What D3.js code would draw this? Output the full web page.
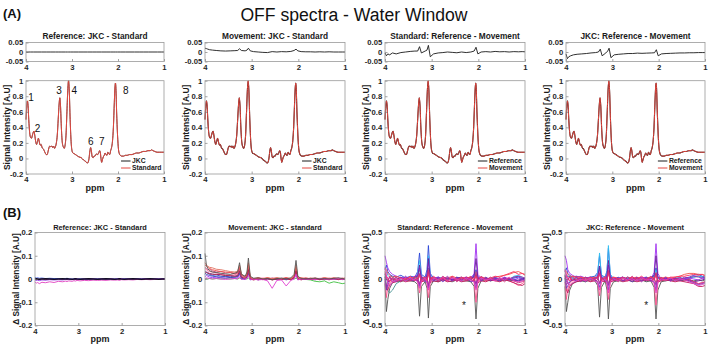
<!DOCTYPE html>
<html><head><meta charset="utf-8">
<script src="https://cdn.jsdelivr.net/npm/d3@7"></script>
<style>body{margin:0;background:#fff}</style>
</head><body>
<script>
// ---------------- DATA ----------------
const ppmTicks = [4, 3, 2, 1];
const mainYTicks = [-0.2, 0, 0.2, 0.4, 0.6, 0.8, 1];
const diffYTicks = [-0.05, 0, 0.05];
const smallDeltaTicks = [-0.2, -0.1, 0, 0.1, 0.2];
const largeDeltaTicks = [-0.5, 0, 0.5];

const topTitles = ["Reference: JKC - Standard", "Movement: JKC - Standard", "Standard: Reference - Movement", "JKC: Reference - Movement"];
const bottomTitles = ["Reference: JKC - Standard", "Movement: JKC - standard", "Standard: Reference - Movement", "JKC: Reference - Movement"];
const legendLabels = [["JKC", "Standard"], ["JKC", "Standard"], ["Reference", "Movement"], ["Reference", "Movement"]];
const peakLabels = ["1", "2", "3", "4", "6", "7", "8"];
const peakPpm = [3.89, 3.75, 3.28, 2.95, 2.59, 2.35, 1.83];
const peakVal = [0.74, 0.34, 0.83, 0.83, 0.17, 0.17, 0.83];

// averaged OFF spectrum (ppm, normalised intensity)
const specPpm = [4.00,3.985,3.97,3.955,3.94,3.92,3.90,3.88,3.86,3.84,3.825,3.81,3.79,3.77,3.75,3.73,3.71,3.69,3.67,3.65,3.62,3.59,3.56,3.54,3.52,3.50,3.48,3.46,3.44,3.42,3.40,3.38,3.36,3.34,3.32,3.30,3.28,3.265,3.25,3.23,3.21,3.19,3.17,3.15,3.13,3.11,3.09,3.075,3.06,3.04,3.02,3.00,2.98,2.95,2.90,2.85,2.80,2.75,2.70,2.67,2.65,2.63,2.61,2.595,2.58,2.56,2.54,2.52,2.50,2.48,2.46,2.44,2.42,2.40,2.385,2.37,2.355,2.34,2.32,2.30,2.28,2.26,2.24,2.22,2.20,2.18,2.16,2.14,2.12,2.10,2.08,2.065,2.055,2.045,2.03,2.01,1.99,1.97,1.95,1.92,1.88,1.84,1.80,1.75,1.70,1.65,1.60,1.55,1.50,1.45,1.40,1.35,1.30,1.27,1.24,1.20,1.15,1.10,1.05,1.00];
const specVal = [0.50,0.66,0.74,0.68,0.50,0.33,0.27,0.26,0.30,0.34,0.35,0.30,0.22,0.18,0.22,0.26,0.21,0.17,0.18,0.14,0.12,0.08,0.05,0.05,0.09,0.14,0.16,0.15,0.16,0.14,0.16,0.13,0.15,0.20,0.30,0.50,0.70,0.78,0.68,0.38,0.20,0.15,0.13,0.17,0.30,0.60,0.90,1.00,0.88,0.50,0.22,0.10,0.07,0.06,0.04,0.02,0.01,-0.02,-0.04,-0.06,-0.05,0.00,0.10,0.14,0.10,0.02,0.01,0.03,0.03,0.05,0.06,0.05,0.07,0.10,0.08,0.00,-0.05,-0.02,0.02,0.04,0.07,0.05,0.04,0.08,0.06,0.05,0.10,0.14,0.22,0.40,0.72,0.92,0.97,0.90,0.60,0.30,0.12,0.06,0.04,0.03,0.03,0.04,0.04,0.05,0.05,0.06,0.07,0.07,0.08,0.09,0.09,0.10,0.10,0.11,0.10,0.09,0.08,0.08,0.08,0.08];

// ppm sampling grid for the difference spectra
const gridPpm = [4.00,3.97,3.94,3.90,3.84,3.76,3.66,3.56,3.46,3.36,3.30,3.26,3.22,3.14,3.10,3.07,3.03,2.96,2.86,2.76,2.66,2.56,2.46,2.36,2.26,2.16,2.09,2.05,2.01,1.94,1.84,1.74,1.64,1.54,1.44,1.34,1.24,1.14,1.06,1.00];

// top-row difference spectra
const diffRefJkcStd = [0,0,0,0,0,0,0,0,0,0,0,0,0,0,0,0,0,0,0,0,0,0,0,0,0,0,0,0,0,0,0,0,0,0,0,0,0,0,0,0];
const diffMovJkcStd = [0.020,0.018,0.015,0.012,0.010,0.008,0.006,0.005,0.006,0.007,0.008,0.017,0.008,0.006,0.010,0.020,0.006,0.002,0.000,-0.002,-0.003,0.002,0.000,0.002,0.001,0.003,0.008,0.015,0.006,0.002,0.001,0.001,0.000,0.001,0.000,0.001,0.000,0.000,0.000,0.000];
const diffStdRefMov = [-0.005,-0.020,-0.010,-0.015,-0.005,-0.010,-0.003,0.000,0.003,0.005,0.005,0.028,-0.005,0.005,0.010,0.035,-0.025,-0.010,-0.005,-0.003,0.000,-0.002,-0.004,0.000,-0.003,0.000,0.005,0.025,-0.010,0.000,0.002,0.000,0.003,0.001,0.002,0.000,0.002,0.001,0.002,0.001];
const diffJkcRefMov = [-0.010,-0.035,-0.025,-0.020,-0.015,-0.012,-0.010,-0.008,-0.005,-0.003,0.000,0.015,-0.020,-0.005,0.005,0.020,-0.030,-0.015,-0.012,-0.010,-0.008,-0.008,-0.006,-0.007,-0.006,-0.005,-0.004,0.012,-0.020,-0.010,-0.008,-0.007,-0.006,-0.005,-0.005,-0.004,-0.004,-0.003,-0.003,-0.003];

// bottom-row individual-subject difference spectra
const deltaRefJkcStd = [
 [0.002,-0.003,0.001,-0.002,0.002,-0.003,0.001,-0.002,0.002,-0.002,0.001,-0.002,0.001,-0.002,0.001,-0.001,0.001,-0.002,0.001,-0.001,0.001,-0.002,0.001,-0.001,0.001,-0.002,0.001,-0.001,0.002,-0.001,0.001,-0.002,0.001,-0.001,0.002,-0.001,0.001,-0.001,0.001,0.000],
 [0.006,0.004,0.005,0.003,0.004,0.002,0.003,0.002,0.002,0.001,0.002,0.003,0.001,0.000,0.001,0.002,0.000,0.001,0.000,0.001,0.000,0.001,0.000,0.001,0.000,0.000,0.001,0.002,0.000,0.001,0.000,0.000,0.001,0.000,0.000,0.001,0.000,0.000,0.001,0.000],
 [-0.004,-0.006,-0.005,-0.007,-0.004,-0.005,-0.003,-0.004,-0.003,-0.004,-0.002,-0.003,-0.002,-0.003,-0.001,-0.002,-0.001,-0.002,-0.001,-0.001,0.000,-0.001,0.000,-0.001,0.000,-0.001,0.000,0.001,0.000,-0.001,0.000,0.000,-0.001,0.000,0.000,-0.001,0.000,0.000,0.000,0.000],
 [-0.012,-0.018,-0.015,-0.020,-0.014,-0.016,-0.012,-0.015,-0.010,-0.012,-0.009,-0.011,-0.008,-0.010,-0.007,-0.009,-0.006,-0.008,-0.006,-0.007,-0.005,-0.006,-0.005,-0.006,-0.004,-0.005,-0.004,-0.006,-0.003,-0.004,-0.003,-0.004,-0.002,-0.003,-0.002,-0.003,-0.002,-0.002,-0.001,-0.002],
 [0.000,0.001,0.000,-0.001,0.000,0.001,0.000,-0.001,0.000,0.001,0.000,0.001,0.000,-0.001,0.000,0.001,0.000,-0.001,0.000,0.001,0.000,-0.001,0.000,0.001,0.000,-0.001,0.000,0.001,0.000,-0.001,0.000,0.001,0.000,-0.001,0.000,0.001,0.000,-0.001,0.000,0.000]
];
const deltaMovJkcStd = [
 [0.000,0.002,0.000,0.002,0.000,0.002,0.000,0.002,0.000,0.002,0.000,0.004,0.000,0.002,0.000,0.004,0.000,0.002,0.000,0.002,0.000,0.002,0.000,0.002,0.000,0.002,0.000,0.004,0.000,0.000,-0.002,-0.004,-0.010,-0.012,-0.008,-0.018,-0.012,-0.016,-0.020,-0.018],
 [0.010,0.015,0.012,0.008,0.006,0.008,0.005,0.004,0.006,0.003,0.005,0.020,0.002,-0.002,0.006,0.025,-0.004,0.000,-0.003,0.002,-0.002,0.000,-0.003,0.002,0.000,-0.002,0.004,0.020,-0.002,0.000,-0.002,0.002,0.000,-0.002,0.000,0.002,-0.002,0.000,0.000,-0.002],
 [0.020,0.030,0.025,0.020,0.015,0.018,0.012,0.010,0.012,0.008,0.012,0.030,0.004,0.000,0.010,0.035,-0.002,0.002,-0.002,0.000,0.002,-0.002,0.000,0.002,-0.002,0.000,0.006,0.030,0.000,-0.002,0.002,0.000,-0.002,0.000,0.002,-0.002,0.000,0.002,0.000,-0.002],
 [0.025,0.020,0.018,0.015,0.012,0.010,0.008,0.010,0.006,0.008,0.010,0.025,0.004,0.000,0.008,0.030,0.000,0.002,-0.002,0.000,0.002,0.000,-0.002,0.000,0.002,0.000,0.006,0.025,0.000,0.002,0.000,-0.002,0.000,0.002,-0.002,0.000,0.002,0.000,-0.002,0.000],
 [0.035,0.030,0.028,0.024,0.022,0.018,0.020,0.014,0.016,0.012,0.016,0.032,0.008,0.000,0.012,0.035,-0.003,0.003,-0.004,0.002,-0.003,0.004,-0.002,0.003,-0.004,0.002,0.006,0.030,-0.003,0.003,-0.002,0.003,-0.004,0.002,-0.003,0.003,-0.002,0.004,-0.003,0.002],
 [0.045,0.040,0.035,0.032,0.030,0.026,0.022,0.018,0.016,0.018,0.022,0.040,0.012,0.004,0.015,0.045,0.002,-0.002,0.002,0.004,0.000,0.004,0.002,0.000,0.004,0.002,0.008,0.040,0.002,0.000,0.004,0.002,0.000,0.003,0.001,0.004,0.000,0.003,0.002,0.000],
 [0.050,0.045,0.040,0.042,0.035,0.030,0.033,0.026,0.028,0.022,0.025,0.045,0.015,0.006,0.018,0.050,0.004,-0.003,0.005,-0.002,0.004,-0.004,0.003,-0.002,0.004,-0.003,0.010,0.045,0.002,-0.004,0.003,-0.002,0.004,-0.003,0.002,-0.004,0.003,-0.002,0.004,-0.002],
 [0.060,0.055,0.050,0.045,0.040,0.036,0.032,0.030,0.028,0.025,0.028,0.050,0.020,0.008,0.020,0.060,0.006,0.000,0.004,0.002,0.006,0.000,0.004,0.002,0.006,0.000,0.012,0.050,0.004,0.006,0.000,0.004,0.002,0.000,0.006,0.002,0.005,0.002,0.000,0.004],
 [0.070,0.060,0.055,0.050,0.048,0.042,0.040,0.036,0.032,0.030,0.034,0.060,0.022,0.010,0.025,0.070,0.008,0.002,0.006,0.000,0.005,0.002,0.006,0.000,0.004,0.002,0.015,0.060,0.005,0.002,0.005,0.000,0.004,0.002,0.005,0.000,0.004,0.002,0.003,0.004],
 [0.030,0.028,0.025,0.022,0.020,0.020,0.018,0.015,0.014,0.012,0.014,0.035,0.008,0.002,0.012,0.040,0.000,-0.004,0.000,-0.003,0.002,-0.004,0.000,-0.002,0.002,-0.004,0.006,0.035,0.000,-0.003,0.002,-0.002,0.000,-0.003,0.000,-0.002,0.002,-0.003,0.000,-0.002],
 [0.000,0.005,0.004,0.002,0.000,0.002,0.000,-0.002,0.000,0.002,0.000,0.010,-0.002,0.000,0.002,0.015,-0.002,0.000,-0.004,-0.002,-0.008,-0.040,-0.006,-0.004,-0.030,-0.006,0.000,0.020,-0.004,0.000,-0.002,0.000,-0.002,0.002,0.000,-0.002,0.000,0.002,-0.002,0.000],
 [0.110,0.060,0.045,0.035,0.030,0.028,0.025,0.022,0.020,0.025,0.030,0.070,0.020,0.012,0.030,0.090,0.012,0.003,0.005,0.000,0.002,-0.003,0.002,0.004,0.000,0.005,0.020,0.080,0.012,0.002,0.000,0.002,0.004,0.000,0.002,0.000,0.003,0.005,0.002,0.000]
];
const deltaStdRefMov = [
 [-0.05,-0.35,-0.22,-0.10,-0.04,-0.02,-0.03,-0.01,-0.02,-0.03,-0.06,-0.40,-0.08,-0.03,-0.10,-0.42,-0.08,-0.02,-0.03,-0.01,-0.02,-0.03,-0.01,-0.02,-0.02,-0.03,-0.08,-0.43,-0.10,-0.02,-0.01,-0.02,-0.01,-0.02,-0.01,-0.02,-0.01,-0.02,-0.01,-0.02],
 [0.03,-0.06,-0.12,-0.15,-0.12,-0.05,-0.02,0.00,-0.01,0.01,0.02,0.10,0.01,0.00,0.03,0.12,0.00,-0.01,0.00,0.01,-0.01,0.00,0.01,-0.01,0.00,0.01,0.02,0.05,0.00,0.01,-0.01,0.00,0.01,0.00,-0.01,0.00,0.02,0.03,0.01,0.00],
 [0.10,0.15,0.08,0.05,0.03,0.02,0.04,0.01,0.03,0.02,0.08,0.28,0.05,0.02,0.10,0.36,0.06,0.01,0.02,0.00,0.01,-0.01,0.02,0.00,0.01,0.02,0.04,0.10,0.02,0.00,0.01,-0.01,0.00,0.01,-0.01,0.00,0.01,0.02,0.00,0.01],
 [0.05,0.08,0.04,0.02,0.03,-0.02,0.00,0.02,-0.01,0.01,0.05,0.20,0.03,0.00,0.06,0.25,0.04,-0.01,0.01,0.02,0.00,0.01,-0.02,0.01,0.00,0.01,0.03,0.08,0.02,-0.01,0.00,0.01,0.02,0.00,0.01,-0.01,0.03,0.04,0.02,0.00],
 [0.25,0.18,0.12,0.08,0.05,0.03,0.01,0.02,0.00,0.03,0.04,0.12,0.02,0.01,0.05,0.18,0.03,0.00,0.02,-0.01,0.01,0.00,-0.02,0.01,0.02,0.00,0.06,0.38,0.05,0.01,0.00,-0.01,0.01,0.00,0.02,0.00,-0.01,0.01,0.00,-0.01],
 [0.05,0.00,-0.03,-0.02,0.00,-0.01,0.02,-0.01,0.00,0.02,0.03,0.15,0.00,-0.01,0.04,0.22,0.01,0.00,-0.02,0.01,0.00,-0.01,0.01,0.02,-0.01,0.00,0.03,0.22,0.01,-0.01,0.01,-0.02,0.00,-0.01,0.01,0.00,-0.02,-0.01,0.00,0.01],
 [0.12,0.10,0.06,0.04,0.02,0.03,0.01,0.00,0.02,0.01,0.00,-0.05,0.01,0.02,0.00,-0.06,0.02,0.01,0.00,0.02,0.01,0.03,0.01,0.00,0.02,0.01,0.00,-0.05,0.01,0.02,0.01,0.00,0.02,0.03,0.04,0.05,0.07,0.08,0.06,0.05],
 [-0.02,-0.20,-0.08,-0.04,-0.02,0.00,-0.02,0.01,-0.01,0.00,-0.02,-0.15,-0.03,0.00,-0.05,-0.20,-0.03,0.00,-0.01,0.00,-0.02,0.01,-0.01,0.00,-0.01,0.00,-0.04,-0.25,-0.03,0.00,-0.01,0.01,-0.01,0.00,0.01,-0.02,-0.04,-0.07,-0.05,-0.03],
 [0.02,-0.10,-0.12,-0.06,-0.04,-0.03,-0.01,-0.03,-0.02,-0.01,-0.02,0.05,-0.03,-0.02,-0.01,0.08,-0.04,-0.02,-0.03,-0.01,-0.03,-0.02,-0.01,-0.03,-0.02,-0.01,-0.02,0.05,-0.04,-0.02,-0.03,-0.01,-0.02,-0.03,-0.01,-0.02,-0.04,-0.06,-0.07,-0.05],
 [0.00,-0.12,-0.06,-0.02,0.01,-0.03,0.02,-0.02,0.01,0.00,-0.02,-0.08,0.01,-0.03,-0.02,-0.10,0.01,-0.02,0.01,-0.03,0.01,-0.02,0.02,-0.01,0.01,-0.03,-0.02,-0.10,0.01,-0.02,0.02,-0.01,0.00,-0.02,0.01,-0.01,0.00,-0.02,-0.01,0.00],
 [-0.04,-0.08,-0.03,0.02,-0.03,0.01,-0.02,0.03,-0.01,-0.02,0.01,-0.06,0.03,-0.02,0.02,-0.08,0.02,-0.02,0.02,-0.01,0.03,-0.02,0.01,-0.02,0.02,-0.01,0.02,-0.06,0.03,-0.02,0.01,-0.01,0.02,-0.02,0.01,0.00,0.02,0.03,0.02,0.01],
 [0.08,0.03,0.01,-0.03,0.02,-0.02,0.01,-0.01,0.03,-0.02,0.02,0.04,-0.03,0.01,-0.02,0.05,-0.01,0.03,-0.01,0.01,-0.02,0.03,-0.01,0.02,0.00,0.03,-0.02,0.03,-0.01,0.02,-0.02,0.01,0.03,0.02,0.04,0.06,0.08,0.05,0.06,0.04],
 [0.06,0.02,-0.02,0.03,-0.01,0.02,-0.03,0.01,-0.02,0.03,0.00,0.06,-0.02,0.02,0.01,0.10,-0.03,0.02,-0.02,0.03,-0.01,0.02,-0.03,0.01,-0.02,0.02,-0.01,0.08,-0.02,0.03,-0.01,0.02,-0.02,0.01,-0.03,0.01,-0.02,-0.04,-0.03,-0.02],
 [0.12,0.05,-0.05,-0.08,-0.03,-0.02,0.01,-0.02,0.01,-0.01,-0.03,-0.10,-0.02,0.01,-0.04,-0.12,-0.02,0.01,-0.01,0.02,-0.02,0.01,0.00,-0.02,0.01,-0.01,-0.03,-0.12,-0.02,0.01,-0.01,0.00,-0.02,0.01,-0.01,0.02,-0.02,-0.03,-0.02,-0.01]
];
const deltaJkcRefMov = [
 [-0.08,-0.35,-0.25,-0.12,-0.05,-0.03,-0.02,-0.03,-0.01,-0.02,-0.07,-0.41,-0.09,-0.02,-0.12,-0.43,-0.10,-0.03,-0.02,-0.02,-0.01,-0.03,-0.02,-0.01,-0.03,-0.02,-0.09,-0.43,-0.12,-0.03,-0.02,-0.01,-0.02,-0.01,-0.02,-0.01,-0.02,-0.01,-0.02,-0.01],
 [0.04,0.02,0.03,0.02,0.01,-0.01,0.00,0.01,-0.01,0.00,0.02,0.12,0.01,0.00,0.03,0.15,0.01,-0.01,0.00,0.01,0.00,-0.01,0.01,0.00,0.00,0.01,0.02,0.06,0.00,0.01,0.00,-0.01,0.00,0.01,0.00,0.01,0.02,0.03,0.02,0.01],
 [0.08,0.12,0.06,0.04,0.02,0.03,0.02,0.01,0.02,0.03,0.07,0.25,0.04,0.02,0.09,0.33,0.05,0.00,0.01,0.02,0.00,0.01,-0.01,0.01,0.02,0.00,0.03,0.12,0.02,0.01,0.00,0.01,-0.01,0.00,0.01,0.02,0.04,0.05,0.03,0.02],
 [0.06,0.05,0.03,0.02,0.02,0.00,0.01,-0.01,0.02,0.01,0.06,0.28,0.04,0.01,0.08,0.36,0.05,0.00,0.01,0.00,0.02,0.00,0.01,-0.01,0.00,0.02,0.04,0.10,0.01,0.00,0.01,0.00,0.01,0.02,0.00,0.01,0.02,0.03,0.02,0.01],
 [0.25,0.20,0.10,0.06,0.04,0.02,0.03,0.01,0.02,0.00,0.04,0.10,0.02,0.00,0.05,0.15,0.02,0.01,0.00,0.02,-0.01,0.01,0.00,0.02,0.01,0.00,0.07,0.38,0.06,0.00,0.01,0.00,-0.01,0.01,0.00,0.01,0.00,-0.01,0.01,0.00],
 [0.04,-0.02,-0.05,-0.03,-0.01,0.00,0.01,-0.02,0.01,0.01,0.02,0.14,0.01,-0.02,0.03,0.20,0.00,-0.01,-0.01,0.02,-0.01,0.00,0.01,0.01,-0.02,0.01,0.04,0.25,0.02,0.00,0.00,-0.01,0.01,-0.02,0.00,-0.01,-0.03,-0.02,-0.01,0.00],
 [0.10,0.08,0.05,0.03,0.03,0.02,0.02,0.01,0.01,0.02,0.01,-0.04,0.00,0.01,0.00,-0.05,0.01,0.02,0.01,0.00,0.02,0.01,0.02,0.00,0.01,0.02,0.01,-0.04,0.02,0.01,0.02,0.01,0.02,0.03,0.05,0.06,0.06,0.05,0.05,0.04],
 [-0.03,-0.22,-0.10,-0.05,-0.02,-0.01,-0.02,0.00,-0.01,-0.01,-0.03,-0.18,-0.03,-0.01,-0.06,-0.22,-0.04,-0.01,0.00,-0.01,-0.02,0.00,-0.01,-0.01,0.00,-0.01,-0.05,-0.28,-0.04,-0.01,0.00,0.01,0.00,-0.01,0.00,-0.02,-0.03,-0.05,-0.04,-0.03],
 [0.03,-0.12,-0.15,-0.08,-0.05,-0.03,-0.02,-0.01,-0.03,-0.02,-0.01,0.06,-0.02,-0.03,-0.01,0.09,-0.03,-0.02,-0.01,-0.03,-0.02,-0.01,-0.03,-0.02,-0.01,-0.02,-0.01,0.06,-0.03,-0.02,-0.01,-0.02,-0.03,-0.02,-0.03,-0.04,-0.05,-0.08,-0.08,-0.07],
 [0.01,-0.10,-0.07,-0.03,0.00,-0.02,0.01,-0.03,0.02,-0.01,-0.03,-0.09,0.02,-0.02,-0.03,-0.12,0.02,-0.01,0.02,-0.02,0.00,-0.03,0.01,-0.02,0.02,-0.02,-0.03,-0.12,0.02,-0.01,0.01,-0.02,0.01,-0.01,0.00,-0.02,-0.04,-0.06,-0.05,-0.04],
 [-0.03,-0.06,-0.02,0.03,-0.02,0.02,-0.03,0.02,0.00,-0.01,0.02,-0.05,0.02,-0.01,0.03,-0.07,0.03,-0.01,0.01,-0.02,0.02,-0.01,0.02,-0.03,0.01,-0.02,0.01,-0.07,0.02,-0.01,0.02,-0.02,0.01,-0.01,0.02,0.01,0.03,0.02,0.01,0.02],
 [0.09,0.04,0.02,-0.02,0.03,-0.01,0.02,-0.02,0.02,-0.01,0.03,0.05,-0.02,0.02,-0.01,0.06,-0.02,0.02,0.00,0.02,-0.01,0.02,0.00,0.03,-0.01,0.02,-0.01,0.04,-0.02,0.01,-0.01,0.02,0.02,0.03,0.03,0.04,0.05,0.04,0.05,0.03],
 [0.05,0.03,-0.01,0.02,-0.02,0.03,-0.01,0.02,-0.03,0.02,0.01,0.07,-0.01,0.03,0.00,0.09,-0.02,0.01,-0.03,0.02,-0.01,0.03,-0.02,0.01,-0.01,0.03,0.00,0.07,-0.03,0.02,-0.02,0.01,-0.01,0.02,-0.02,0.00,-0.03,-0.05,-0.04,-0.03],
 [0.10,0.04,-0.04,-0.07,-0.04,-0.02,0.00,-0.02,0.01,-0.02,-0.04,-0.12,-0.03,0.00,-0.05,-0.15,-0.03,0.00,-0.02,0.01,-0.01,0.00,-0.02,0.01,-0.01,0.00,-0.04,-0.15,-0.03,0.00,-0.01,0.01,-0.02,0.00,-0.01,-0.03,-0.05,-0.07,-0.06,-0.05]
];
const starPpm = [2.31, 2.26];
const starVal = [-0.27, -0.27];

// ---------------- STYLE ----------------
const FONT = "'Liberation Sans', Arial, Helvetica, sans-serif";
const colRefJkc = ["#b01850", "#2a50e0", "#8a2be2", "#e040c0", "#151025"];
const colMov = ["#40c040", "#9b30ff", "#2a50e0", "#3949ab", "#8060a0", "#ff6a9a", "#c05080", "#f0504a", "#e07060", "#b0204a", "#e040d0", "#555555"];
const colBig = ["#555555", "#3f8f8f", "#2a46d8", "#30c0f0", "#a030f0", "#6a1b9a", "#f0504a", "#ff4f8b", "#c2185b", "#7030c0", "#9c27b0", "#ff3060", "#d0307a", "#e040c0"];

const svg = d3.select("body").append("svg").attr("width", 709).attr("height", 346)
  .style("font-family", FONT);

function makeAxes(o) {
  const x = d3.scaleLinear().domain([4, 1]).range([o.left, o.right]);
  const y = d3.scaleLinear().domain(o.yDomain).range([o.bottom, o.top]);
  const g = svg.append("g");
  const plot = g.append("g");
  const fmt = d => (d === 0 ? "0" : String(d));
  const xa = g.append("g").attr("transform", `translate(0,${o.bottom})`)
    .call(d3.axisBottom(x).tickValues(ppmTicks).tickSize(-2.5).tickPadding(2.6).tickFormat(d3.format("d")));
  const ya = g.append("g").attr("transform", `translate(${o.left},0)`)
    .call(d3.axisLeft(y).tickValues(o.yTicks).tickSize(-2.5).tickPadding(2.8).tickFormat(fmt));
  [xa, ya].forEach(a => {
    a.select(".domain").remove();
    a.selectAll("line").attr("stroke", "#666").attr("stroke-width", 0.6);
    a.selectAll("text").attr("font-size", 7.7).attr("font-weight", "bold").attr("fill", "#262626").attr("font-family", FONT);
  });
  g.append("rect").attr("x", o.left).attr("y", o.top).attr("width", o.right - o.left).attr("height", o.bottom - o.top)
    .attr("fill", "none").attr("stroke", "#9a9a9a").attr("stroke-width", 0.8);
  if (o.title) {
    g.append("text").attr("x", (o.left + o.right) / 2).attr("y", o.titleY).attr("text-anchor", "middle")
      .attr("font-size", o.titleSize).attr("font-weight", "bold").attr("fill", "#1a1a1a").text(o.title);
  }
  if (o.ylabel) {
    const cy = (o.top + o.bottom) / 2, cx = o.left - 19.5;
    g.append("text").attr("transform", `translate(${cx},${cy}) rotate(-90)`).attr("text-anchor", "middle")
      .attr("dominant-baseline", "central").attr("font-size", o.ylabelSize).attr("font-weight", "bold").attr("fill", "#1a1a1a").text(o.ylabel);
  }
  if (o.xlabel) {
    g.append("text").attr("x", (o.left + o.right) / 2).attr("y", o.xlabelY).attr("text-anchor", "middle")
      .attr("font-size", 9).attr("font-weight", "bold").attr("fill", "#1a1a1a").text(o.xlabel);
  }
  return { x, y, plot, g };
}

function drawLine(ax, xs, ys, color, width, curve) {
  const pts = xs.map((p, i) => [p, ys[i]]);
  ax.plot.append("path").datum(pts)
    .attr("d", d3.line().x(d => ax.x(d[0])).y(d => ax.y(d[1])).curve(curve || d3.curveLinear))
    .attr("fill", "none").attr("stroke", color).attr("stroke-width", width).attr("stroke-linejoin", "round");
}

// headings
svg.append("text").attr("x", 354).attr("y", 20.5).attr("text-anchor", "middle").attr("font-size", 17.6).attr("fill", "#111").text("OFF spectra - Water Window");
svg.append("text").attr("x", 3).attr("y", 18).attr("font-size", 13).attr("font-weight", "bold").attr("fill", "#111").text("(A)");
svg.append("text").attr("x", 3).attr("y", 216.5).attr("font-size", 13).attr("font-weight", "bold").attr("fill", "#111").text("(B)");

const topLefts = [26, 205, 385, 566];
const topRights = [164, 345, 525, 705];
const botLefts = [35, 205, 385, 565];
const botRights = [165, 345, 525, 705];
const topDiffs = [diffRefJkcStd, diffMovJkcStd, diffStdRefMov, diffJkcRefMov];
const bottomSets = [deltaRefJkcStd, deltaMovJkcStd, deltaStdRefMov, deltaJkcRefMov];
const bottomColors = [colRefJkc, colMov, colBig, colBig];

for (let k = 0; k < 4; k++) {
  // small difference panel
  const d = makeAxes({ left: topLefts[k], right: topRights[k], top: 42.5, bottom: 61.5, yDomain: [-0.05, 0.05], yTicks: diffYTicks,
    title: topTitles[k], titleY: 39, titleSize: 8.3 });
  drawLine(d, gridPpm, topDiffs[k], "#1a1a1a", 0.9);

  // main spectrum panel
  const m = makeAxes({ left: topLefts[k], right: topRights[k], top: 80.7, bottom: 174, yDomain: [-0.2, 1], yTicks: mainYTicks,
    ylabel: "Signal Intensity [A.U]", ylabelSize: 8.5, xlabel: "ppm", xlabelY: 191 });
  drawLine(m, specPpm, specVal, "#1a1a1a", k === 0 ? 0.8 : 1.1, d3.curveMonotoneX);
  drawLine(m, specPpm, specVal, "#e4463e", 1.0, d3.curveMonotoneX);

  // legend
  const lg = m.g.append("g");
  const texts = legendLabels[k].map((t, i) => lg.append("text").attr("y", 174 - 13 + i * 7 + 2.4)
    .attr("font-size", 6.8).attr("font-weight", "bold").attr("fill", "#1a1a1a").text(t));
  const maxW = d3.max(texts, t => t.node().getComputedTextLength());
  const tx = topRights[k] - 2.5 - maxW;
  texts.forEach(t => t.attr("x", tx));
  ["#1a1a1a", "#e4463e"].forEach((c, i) => lg.append("line").attr("x1", tx - 11).attr("x2", tx - 1.5)
    .attr("y1", 174 - 13 + i * 7).attr("y2", 174 - 13 + i * 7).attr("stroke", c).attr("stroke-width", 1));

  if (k === 0) {
    peakLabels.forEach((p, i) => m.g.append("text").attr("x", m.x(peakPpm[i])).attr("y", m.y(peakVal[i]))
      .attr("text-anchor", "middle").attr("font-size", 10).attr("fill", "#111").text(p));
  }

  // bottom delta panel
  const big = k >= 2;
  const b = makeAxes({ left: botLefts[k], right: botRights[k], top: 232.5, bottom: 325.5,
    yDomain: big ? [-0.5, 0.5] : [-0.2, 0.2], yTicks: big ? largeDeltaTicks : smallDeltaTicks,
    title: bottomTitles[k], titleY: 230, titleSize: 7.4,
    ylabel: "\u0394 Signal Intensity [A.U]", ylabelSize: 8.3, xlabel: "ppm", xlabelY: 342 });
  bottomSets[k].forEach((vals, i) => drawLine(b, gridPpm, vals, bottomColors[k][i], k === 0 && i === 4 ? 1.4 : 0.9));
  if (big) {
    b.g.append("text").attr("x", b.x(starPpm[k - 2])).attr("y", b.y(starVal[k - 2]) + 5).attr("text-anchor", "middle")
      .attr("font-size", 10).attr("fill", "#222").text("*");
  }
}
</script>
</body></html>
